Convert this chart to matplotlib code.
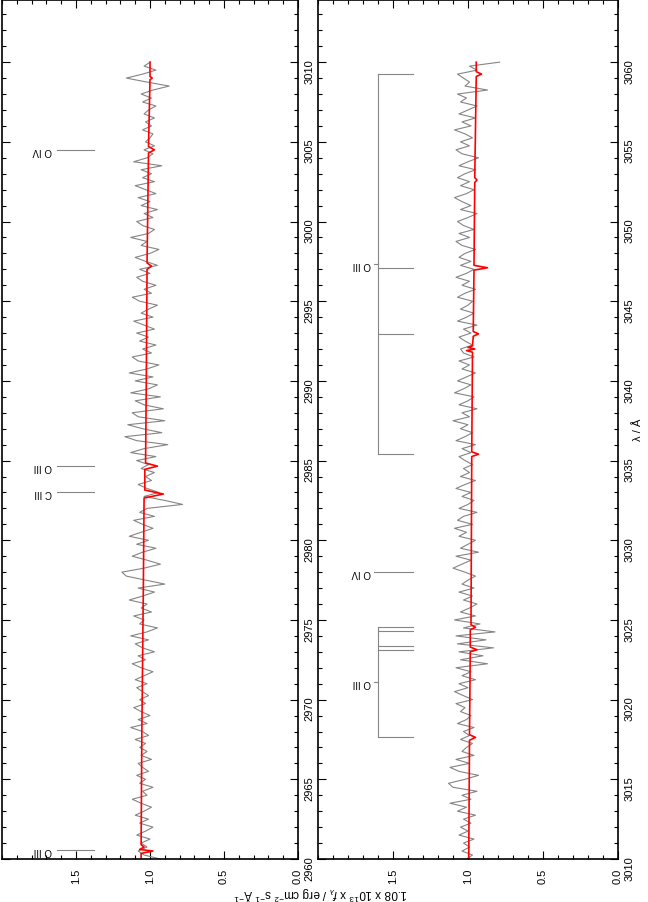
import numpy as np
import matplotlib
matplotlib.use("Agg")
import matplotlib.pyplot as plt
from matplotlib.ticker import MultipleLocator

plt.rcParams['font.family'] = ['Liberation Sans', 'DejaVu Sans']
plt.rcParams['mathtext.fontset'] = 'custom'
plt.rcParams['mathtext.rm'] = 'Liberation Sans'
plt.rcParams['mathtext.it'] = 'Liberation Sans:italic'

# observed spectrum, 0.25 A sampling
wave_a = np.arange(2960.0, 3010.01, 0.25)
obs_a = [
    0.93, 1.04, 1.08, 1.02,  1.06, 1.00, 1.09, 1.03,  0.98, 1.07, 1.01, 1.10,
    1.04, 0.99, 1.06, 1.12,  1.02, 1.05, 0.98, 1.07,  1.03, 1.09, 1.01, 1.05,
    1.08, 0.99, 1.06, 1.02,  1.07, 1.03, 1.10, 1.01,  1.05, 1.13, 1.02, 1.08,
    1.00, 1.06, 1.11, 1.03,  1.07, 1.01, 1.05, 1.09,  1.02, 1.10, 1.04, 0.98,
    1.06, 1.12, 1.03, 1.08,  0.97, 1.05, 1.10, 1.01,  1.13, 1.02, 0.95, 1.07,
    1.04, 1.11, 0.99, 1.06,  1.02, 1.14, 1.05, 0.97,  1.08, 0.90, 1.03, 1.16,
    1.19, 1.04, 0.93, 1.02,  1.12, 1.05, 0.96, 1.09,  1.01, 1.14, 1.06, 0.98,
    1.05, 1.11, 0.97, 1.07,  1.02, 0.78, 0.90, 1.04,  0.94, 1.02, 1.08, 0.99,
    1.03, 0.97, 1.06, 1.01,  1.09, 0.96, 1.13, 1.04,  0.88, 1.09, 1.17, 0.92,
    1.05, 1.15, 0.90, 1.08,  1.12, 0.91, 1.04, 1.10,  0.93, 1.13, 1.01, 0.95,
    1.10, 0.98, 1.14, 1.02,  0.94, 1.08, 1.12, 0.99,  1.05, 0.96, 1.07, 1.01,
    1.09, 0.97, 1.04, 1.11,  0.98, 1.06, 1.01, 0.95,  1.07, 1.12, 0.99, 1.04,
    0.96, 1.05, 1.09, 1.00,  1.07, 0.95, 1.03, 1.10,  1.00, 0.94, 1.06, 1.02,
    1.13, 1.01, 0.97, 1.05,  1.09, 0.98, 1.04, 0.95,  1.06, 1.00, 1.08, 0.96,
    1.03, 1.10, 0.97, 1.05,  0.99, 1.06, 0.92, 1.11,  1.02, 0.98, 1.04, 0.97,
    1.03, 1.00, 0.98, 1.05,  0.99, 1.03, 0.97, 1.04,  1.01, 0.96, 1.05, 0.99,
    1.06, 0.98, 0.87, 1.02,  1.16, 1.05, 0.96, 1.04,  1.00,
]

wave_b = np.arange(3010.0, 3060.01, 0.25)
obs_b = [
    1.01, 0.97, 1.04, 0.99,  1.03, 0.96, 1.06, 1.00,  1.05, 0.98, 1.03, 0.95,
    1.07, 1.01, 1.12, 0.98,  1.04, 0.94, 1.10, 1.13,  1.02, 0.93, 1.06, 1.12,
    0.99, 1.08, 0.96, 1.04,  1.01, 0.97, 1.05, 0.99,  1.03, 0.96, 1.07, 1.01,
    0.98, 1.05, 1.02, 1.08,  0.97, 1.03, 1.09, 1.00,  1.06, 0.95, 1.04, 0.98,
    1.08, 0.87, 1.05, 0.90,  1.06, 0.83, 1.07, 0.88,  1.08, 0.82, 1.03, 0.92,
    1.09, 0.95, 1.05, 0.99,  0.94, 1.03, 0.97, 1.06,  0.96, 1.04, 1.00, 0.95,
    1.02, 1.10, 1.04, 0.98,  1.08, 0.93, 1.05, 1.00,  0.95, 1.06, 1.01, 1.09,
    0.97, 1.07, 1.03, 0.94,  1.06, 1.00, 0.96, 1.04,  0.98, 1.08, 1.02, 0.95,
    1.05, 0.99, 1.03, 0.97,  1.02, 1.06, 0.98, 1.04,  0.95, 1.08, 1.02, 0.97,
    1.05, 1.00, 1.10, 0.99,  1.04, 0.94, 1.06, 1.00,  0.96, 1.09, 1.03, 0.98,
    1.07, 1.01, 0.95, 1.04,  0.99, 1.06, 0.96, 1.03,  1.05, 0.97, 1.02, 1.06,
    0.98, 1.03, 0.94, 1.07,  1.01, 0.96, 1.05, 1.00,  0.97, 1.07, 1.02, 0.95,
    1.04, 0.99, 1.08, 1.01,  0.96, 1.05, 0.98, 1.06,  1.02, 0.95, 1.04, 1.08,
    0.99, 1.06, 0.96, 1.03,  1.07, 1.00, 0.94, 1.05,  0.98, 1.04, 1.09, 1.01,
    0.96, 1.05, 0.99, 1.07,  1.02, 0.95, 1.06, 1.00,  0.93, 1.04, 1.08, 0.99,
    1.05, 0.97, 1.02, 1.09,  0.98, 1.04, 0.95, 1.06,  1.00, 0.94, 1.05, 1.01,
    1.07, 0.87, 1.02, 0.99,  1.03, 1.07, 0.94, 0.99,  0.79,
]

# model spectrum (red)
mod_wave_a = [2960.0, 2960.35, 2960.5, 2960.6, 2960.75, 2960.9, 2968.0, 2977.0,
              2982.65, 2982.9, 2983.15, 2984.45, 2984.65, 2984.85, 2990.0,
              2997.0, 2997.2, 2997.4, 3004.3, 3004.5, 3004.7, 3008.9, 3009.0,
              3009.1, 3010.0]
mod_flux_a = [1.06, 1.06, 0.98, 1.07, 1.04, 1.06, 1.055, 1.045,
              1.04, 0.91, 1.035, 1.035, 0.95, 1.03, 1.025,
              1.02, 0.99, 1.02, 1.01, 0.97, 1.01, 1.00, 0.985,
              1.00, 1.00]

mod_wave_b = [3010.0, 3017.45, 3017.63, 3017.8, 3023.0, 3023.13, 3023.3, 3024.38,
              3024.54, 3024.7, 3035.25, 3035.4, 3035.55, 3041.8, 3041.9, 3042.0,
              3042.1, 3042.2, 3042.8, 3042.95, 3043.1, 3046.95, 3047.1, 3047.25,
              3052.45, 3052.6, 3052.75, 3059.1, 3059.25, 3059.4, 3060.0]
mod_flux_b = [0.995, 0.99, 0.95, 0.99, 0.985, 0.94, 0.985, 0.985,
              0.95, 0.98, 0.975, 0.93, 0.975, 0.97, 1.01, 0.955,
              1.0, 0.97, 0.965, 0.93, 0.965, 0.96, 0.87, 0.96,
              0.955, 0.94, 0.955, 0.945, 0.91, 0.945, 0.945]

# line identifications
ion_a = ["O III", "C III", "O III", "O IV"]
ion_wave_a = [2960.55, 2983.0, 2984.65, 3004.5]
ion_b = ["O IV"]
ion_wave_b = [3028.0]
group_b = ["O III", "O III"]
group_wave_b = [[3035.4, 3042.95, 3047.1, 3059.25],
                [3017.63, 3023.13, 3023.38, 3024.33, 3024.54]]

W, H = 648, 903
fig = plt.figure(figsize=(W / 100, H / 100), dpi=100)
ax1 = fig.add_axes([2 / W, 43 / H, 296 / W, 859 / H])
ax2 = fig.add_axes([318 / W, 43 / H, 300 / W, 859 / H])

grey = '#858585'
panels = [(ax1, wave_a, obs_a, mod_wave_a, mod_flux_a, 2960.0),
          (ax2, wave_b, obs_b, mod_wave_b, mod_flux_b, 3010.0)]

for ax, w, f, mw, mf, w0 in panels:
    ax.plot(f, w, color=grey, lw=0.8)
    ax.plot(mf, mw, color='red', lw=1.2)
    ax.set_xlim(2.0, 0.0)
    ax.set_ylim(w0, w0 + 53.9)
    ax.set_xticks([0.0, 0.5, 1.0, 1.5])
    ax.set_xticklabels(['0.0', '0.5', '1.0', '1.5'])
    ax.xaxis.set_minor_locator(MultipleLocator(0.1))
    ax.yaxis.set_major_locator(MultipleLocator(5))
    ax.yaxis.set_minor_locator(MultipleLocator(1))
    ax.tick_params(which='both', direction='in', top=True, bottom=True,
                   left=True, right=True, labelleft=False, labelright=True,
                   labelsize=8, width=0.8)
    ax.tick_params(which='major', length=5.5)
    ax.tick_params(which='minor', length=3)
    ax.tick_params(axis='x', labelrotation=90, pad=6.5)
    ax.tick_params(axis='y', labelrotation=90, pad=4.5)
    for s in ax.spines.values():
        s.set_linewidth(1.2)

# single line ids
for name, wl in zip(ion_a, ion_wave_a):
    ax1.plot([1.63, 1.38], [wl, wl], color=grey, lw=0.8)
    ax1.text(1.66, wl, name, rotation=180, ha='right', va='center', fontsize=7)
for name, wl in zip(ion_b, ion_wave_b):
    ax2.plot([1.63, 1.37], [wl, wl], color=grey, lw=0.8)
    ax2.text(1.645, wl, name, rotation=180, ha='right', va='center', fontsize=7)

# multiplet brackets
for name, wls in zip(group_b, group_wave_b):
    lo, hi = min(wls), max(wls)
    mid = (lo + hi) / 2
    ax2.plot([1.60, 1.60], [lo, hi], color=grey, lw=0.8)
    for wl in wls:
        ax2.plot([1.60, 1.37], [wl, wl], color=grey, lw=0.8)
    ax2.plot([1.63, 1.60], [mid, mid], color=grey, lw=0.8)
    ax2.text(1.645, mid, name, rotation=180, ha='right', va='center', fontsize=7)

fig.text(0.495, 1 - 895 / H,
         r'1.08 x 10$^{13}$ x $f_{\lambda}$ / erg cm$^{-2}$ s$^{-1}$ $\mathrm{\AA}^{-1}$',
         rotation=180, ha='center', va='center', fontsize=8.5)
fig.text(638 / W, 1 - 430 / H, 'λ / Å', rotation=90, ha='center', va='center',
         fontsize=8)

fig.savefig('out.png', dpi=100)
